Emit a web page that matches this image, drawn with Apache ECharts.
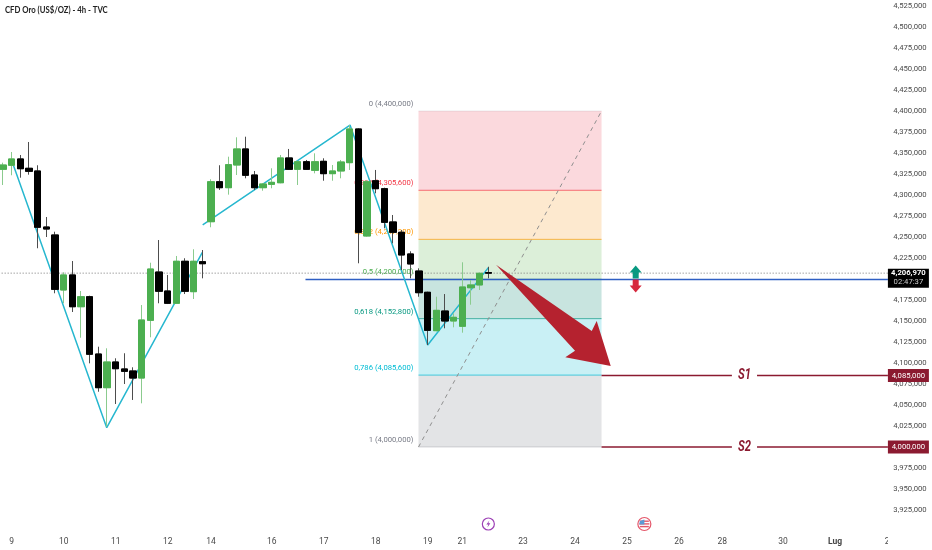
<!DOCTYPE html>
<html><head><meta charset="utf-8">
<style>html,body{margin:0;padding:0;background:#fff}#c{width:932px;height:550px}</style>
<script src="https://cdn.jsdelivr.net/npm/echarts@6/dist/echarts.min.js"></script>
</head><body><div id="c"></div>
<script>
// Prices are in thousands of the printed axis units: 4335.7 = "4,335,700".
const chartTitle = 'CFD Oro (US$/OZ) - 4h - TVC';
const dayLabels = {1:'9',7:'10',13:'11',19:'12',24:'14',31:'16',37:'17',43:'18',49:'19',53:'21',60:'23',66:'24',72:'25',78:'26',83:'28',90:'30',96:'Lug',102:'2'};
const barCount = 103;
// [open, close, low, high]
const ohlc = [
[4330.6,4335.7,4311.9,4338.5],[4335.4,4342.9,4323.5,4351.2],[4342.9,4331.3,4320.6,4347.6],[4331.8,4328.2,4324.2,4363.1],
[4328.6,4261.6,4236.6,4335.4],[4261.9,4259.5,4250,4273.8],[4252.4,4187.7,4183,4256.3],[4186.9,4204.8,4171.1,4208],
[4204.8,4167,4160.7,4221.4],[4167,4178.9,4130.1,4185.7],[4178.9,4110.4,4099.6,4180.1],[4110.7,4070.6,4065.8,4119.4],
[4070.6,4101.2,4024.2,4117.5],[4101.2,4093.2,4051.2,4105.6],[4092.9,4090.1,4075,4111.6],[4090.5,4082.1,4056,4094.9],
[4082.1,4151.2,4052,4169],[4150.8,4211.9,4130.6,4219.4],[4208.3,4185.4,4171.1,4246.4],[4185.7,4171.1,4170.2,4204.8],
[4171.1,4221.1,4171.1,4227.4],[4221.1,4185.4,4182.1,4224.7],[4184.9,4221.1,4176.2,4235.4],[4220.6,4218.2,4200.8,4234.5],
[4268.2,4315.8,4261.6,4318.7],[4315.8,4308.7,4306,4335.4],[4308.7,4336.1,4300.4,4345.6],[4335.7,4354.8,4323.8,4368.7],
[4354.8,4323.5,4319.9,4369.4],[4323.8,4308.7,4306,4328.6],[4308.7,4313.1,4305.1,4314],[4312.7,4315.1,4308,4331.8],
[4314.6,4344.1,4313.9,4347.6],[4344.1,4330.6,4329.8,4354.8],[4330.6,4339.6,4311.9,4340.8],[4339.6,4330.6,4329.8,4341.7],
[4329.4,4339.6,4325.8,4349.6],[4340.1,4325.4,4317,4343.7],[4325.4,4328.6,4317,4335.7],[4328.6,4339.3,4319.9,4341.7],
[4338.5,4378.6,4329.8,4383.3],[4378.6,4255.6,4218.7,4379.4],[4251.2,4315.8,4250.4,4317.9],[4317,4307.5,4302,4329.8],
[4307.5,4267.5,4260.4,4308.7],[4267.9,4255.6,4242.5,4276.2],[4255.6,4228.6,4210.7,4258.3],[4229.8,4217.9,4200.8,4233],
[4209.5,4183.7,4178.9,4212.7],[4184.2,4138.9,4121.4,4184.9],[4138.5,4162.7,4137.7,4178.9],[4161.9,4150,4141.3,4182.1],
[4150,4154.4,4142.5,4159.2],[4143.7,4190.5,4136.1,4219.9],[4189.6,4192.9,4169.4,4198.8],[4192.9,4206.8,4186.9,4207.5],
[4207.6,4206.97,4200.8,4214.6]
];
const zigzagFirst = [[1.19,4335.7],[11.97,4023],[23,4231.8]];
const zigzagSecond = [[23.04,4264.3],[40.04,4383.3],[49,4121.4],[56,4213.5]];
const fibPrices = [4400,4305.6,4247.2,4200,4152.8,4085.6,4000];
const fibLabels = ['0 (4,400,000)','0,236 (4,305,600)','0,382 (4,247,200)','0,5 (4,200,000)','0,618 (4,152,800)','0,786 (4,085,600)','1 (4,000,000)'];
const fibColors = ['#787b86','#f23645','#ff9800','#4caf50','#089981','#00bcd4','#787b86'];
const fibLineOpacity = [0.15,0.7,0.7,0.3,0.7,0.7,0.3];
const fibZones = ['#fbd9dd','#fde9cf','#dcefd9','#c8e4df','#c9f0f5','#e3e4e6'];
const fibRange = [47.94,69.06];
const fibDiagonal = [[47.94,4000],[69.06,4400]];
const lastPrice = 4206.97;
const bluePrice = 4199.5;
const blueStart = 34.9;
const axisEnd = 102.1;
const supports = [{name:'S1',price:4085,tag:'4,085,000'},{name:'S2',price:4000,tag:'4,000,000'}];
const bigArrow = [[56.88,4217],[67.93,4138.1],[68.5,4150],[70.12,4096.4],[64.88,4106.8],[66,4114.6]];
const FONT = 'Roboto,"Liberation Sans",sans-serif';
const SMALL = '7.7px ';

const cats = Array.from({length:barCount},(_,i)=>dayLabels[i]||'');
const bodies = ohlc.map(d=>[d[0],d[1],Math.min(d[0],d[1]),Math.max(d[0],d[1])]);
const fmt = v=>Math.round(v*1000).toLocaleString('en-US');

function textEl(text,x,y,fill,align,va,font){
  return {type:'text',silent:true,style:{text,x,y,fill,align,verticalAlign:va,font}};
}
const chart = echarts.init(document.getElementById('c'),null,{renderer:'canvas'});
chart.setOption({
  animation:false,
  backgroundColor:'#ffffff',
  graphic:[
    {type:'rect',z:1,silent:true,shape:{x:888,y:0,width:44,height:550},style:{fill:'#fff'}},
    {type:'text',z:6,silent:true,x:5,y:10,scaleX:0.86,style:{text:chartTitle,x:0,y:0,fill:'#222',align:'left',verticalAlign:'middle',font:'bold 9px Lato,sans-serif'}}
  ],
  grid:{left:-1.33,top:6,width:892.7,height:504,containLabel:false,outerBoundsMode:'none'},
  xAxis:[
    {type:'category',data:cats,z:0,boundaryGap:true,axisLine:{show:false},axisTick:{show:false},splitLine:{show:false},
     axisLabel:{interval:0,margin:27,hideOverlap:false,color:'#4a4a4a',fontSize:8.5,fontFamily:FONT,
       formatter:v=>v==='Lug'?'{b|Lug}':v,rich:{b:{fontWeight:'bold',fontSize:8.5,color:'#444',fontFamily:FONT}}}},
    {type:'value',min:-0.5,max:102.5,show:false}
  ],
  yAxis:{type:'value',position:'right',z:3,min:3925,max:4525,interval:25,scale:true,
    axisLine:{show:false},axisTick:{show:false},splitLine:{show:false},
    axisLabel:{margin:2,color:'#4a4a4a',fontSize:7.7,fontFamily:FONT,showMinLabel:true,showMaxLabel:true,formatter:fmt}},
  series:[
    {type:'custom',name:'Fibonacci',z:1,xAxisIndex:1,data:fibPrices.map(p=>[fibRange[0],p]),
     renderItem(params,api){
       const i=params.dataIndex, p=fibPrices[i];
       const a=api.coord([fibRange[0],p]), b=api.coord([fibRange[1],p]);
       const kids=[];
       if(i<fibZones.length){
         const n=api.coord([fibRange[1],fibPrices[i+1]]);
         kids.push({type:'rect',silent:true,shape:{x:a[0],y:a[1],width:b[0]-a[0],height:n[1]-a[1]},style:{fill:fibZones[i]}});
       }
       kids.push({type:'line',silent:true,shape:{x1:a[0],y1:a[1],x2:b[0],y2:b[1]},style:{stroke:fibColors[i],lineWidth:1,opacity:fibLineOpacity[i]}});
       kids.push(textEl(fibLabels[i],a[0]-5,a[1]-3,fibColors[i],'right','bottom',SMALL+FONT));
       return {type:'group',children:kids};
     }},
    {type:'line',name:'Diagonal',z:1,xAxisIndex:1,data:fibDiagonal,symbol:'none',silent:true,lineStyle:{color:'#8f8f8f',width:1,type:[4,4]}},
    {type:'custom',name:'Last price',z:1,xAxisIndex:1,data:[[0,lastPrice]],
     renderItem(params,api){
       const a=api.coord([-0.5,lastPrice]), b=api.coord([axisEnd,lastPrice]);
       return {type:'line',silent:true,shape:{x1:a[0],y1:a[1],x2:b[0],y2:b[1]},style:{stroke:'#777',lineWidth:1,lineDash:[1,2]}};
     }},
    {type:'line',name:'Blue level',z:1,xAxisIndex:1,data:[[blueStart,bluePrice],[axisEnd,bluePrice]],symbol:'none',silent:true,lineStyle:{color:'#2f5fc4',width:1.5}},
    {type:'line',name:'Zigzag A',z:1,xAxisIndex:1,data:zigzagFirst,symbol:'none',silent:true,lineStyle:{color:'#26b7cf',width:1.5}},
    {type:'line',name:'Zigzag B',z:1,xAxisIndex:1,data:zigzagSecond,symbol:'none',silent:true,lineStyle:{color:'#26b7cf',width:1.5}},
    {type:'candlestick',name:'Wicks',z:2,barWidth:7,data:ohlc,silent:true,
     itemStyle:{color:'#4caf50',color0:'#000',borderColor:'#8bcb8e',borderColor0:'#4d4d4d',borderWidth:1}},
    {type:'candlestick',name:'XAUUSD',z:2,barWidth:7,data:bodies,silent:true,
     itemStyle:{color:'#4caf50',color0:'#000',borderColor:'#4caf50',borderColor0:'#000',borderWidth:1}},
    {type:'custom',name:'Arrow',z:4,xAxisIndex:1,data:[bigArrow[0]],
     renderItem(params,api){
       return {type:'polygon',silent:true,shape:{points:bigArrow.map(p=>api.coord(p))},style:{fill:'#b5222f'}};
     }},
    {type:'custom',name:'Supports',z:5,xAxisIndex:1,data:supports.map(s=>[fibRange[1],s.price]),
     renderItem(params,api){
       const s=supports[params.dataIndex];
       const a=api.coord([fibRange[1],s.price]), g1=api.coord([84.1,s.price]), g2=api.coord([87,s.price]), b=api.coord([axisEnd,s.price]);
       const mid=(g1[0]+g2[0])/2, c='#8b1a30';
       return {type:'group',children:[
         {type:'line',silent:true,shape:{x1:a[0],y1:a[1],x2:g1[0],y2:a[1]},style:{stroke:c,lineWidth:1.5}},
         {type:'line',silent:true,shape:{x1:g2[0],y1:a[1],x2:b[0],y2:a[1]},style:{stroke:c,lineWidth:1.5}},
         {type:'text',silent:true,x:mid,y:a[1],scaleX:0.75,style:{text:s.name,x:0,y:0,fill:c,align:'center',verticalAlign:'middle',font:'italic bold 15px '+FONT}},
         {type:'rect',silent:true,shape:{x:b[0],y:a[1]-6.5,width:41,height:13},style:{fill:'#8b1a30'}},
         textEl(s.tag,b[0]+20.5,a[1],'#fff','center','middle',SMALL+FONT)
       ]};
     }},
    {type:'custom',name:'Last tag',z:5,xAxisIndex:1,data:[[axisEnd,lastPrice]],
     renderItem(params,api){
       const b=api.coord([axisEnd,lastPrice]);
       return {type:'group',children:[
         {type:'rect',silent:true,shape:{x:b[0],y:b[1]-4.5,width:41,height:19},style:{fill:'#000'}},
         textEl(fmt(lastPrice),b[0]+20.5,b[1],'#fff','center','middle','bold 7.7px '+FONT),
         textEl('02:47:37',b[0]+20.5,b[1]+9,'#c8c8c8','center','middle',SMALL+FONT)
       ]};
     }},
    {type:'custom',name:'Long short marker',z:5,xAxisIndex:1,data:[[73,bluePrice]],
     renderItem(params,api){
       const c=api.coord([73,bluePrice]), x=c[0], y=c[1];
       return {type:'group',children:[
         {type:'polygon',silent:true,shape:{points:[[x,y-14],[x+6,y-7],[x+3,y-7],[x+3,y-1],[x-3,y-1],[x-3,y-7],[x-6,y-7]]},style:{fill:'#089981'}},
         {type:'polygon',silent:true,shape:{points:[[x,y+13],[x+6,y+6],[x+3,y+6],[x+3,y],[x-3,y],[x-3,y+6],[x-6,y+6]]},style:{fill:'#d6293e'}}
       ]};
     }},
    {type:'custom',name:'Events',z:5,xAxisIndex:1,data:[[56,3925],[74,3925]],
     renderItem(params,api){
       const c=api.coord(params.dataIndex===0?[56,3925]:[74,3925]), x=c[0], y=c[1]+14;
       if(params.dataIndex===0){
         return {type:'group',children:[
           {type:'circle',silent:true,shape:{cx:x,cy:y,r:6},style:{fill:'#fff',stroke:'#9c3fb5',lineWidth:1.2}},
           {type:'polygon',silent:true,shape:{points:[[x+1,y-3.5],[x-2,y+0.5],[x,y+0.5],[x-1,y+3.5],[x+2,y-0.8],[x,y-0.8]]},style:{fill:'#9c3fb5'}}
         ]};
       }
       return {type:'group',children:[
         {type:'circle',silent:true,shape:{cx:x,cy:y,r:6.5},style:{fill:'#fff',stroke:'#e4576a',lineWidth:1.2}},
         {type:'rect',silent:true,shape:{x:x-4.5,y:y-3.5,width:9,height:1.4},style:{fill:'#e4576a'}},
         {type:'rect',silent:true,shape:{x:x-5,y:y-0.8,width:10,height:1.4},style:{fill:'#e4576a'}},
         {type:'rect',silent:true,shape:{x:x-4.5,y:y+1.9,width:9,height:1.4},style:{fill:'#e4576a'}},
         {type:'polygon',silent:true,shape:{points:[[x-4.5,y-3],[x,y-4.5],[x,y+0.6],[x-5,y+0.6]]},style:{fill:'#5b9bd5'}}
       ]};
     }}
  ]
});
</script></body></html>
